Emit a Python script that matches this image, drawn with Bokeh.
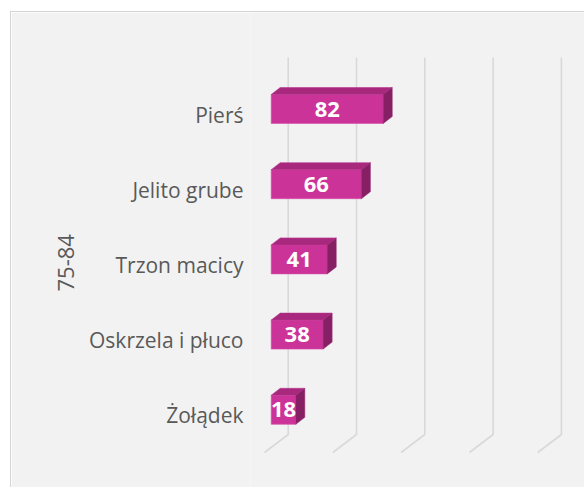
from bokeh.plotting import figure
from bokeh.models import Range1d, FixedTicker, ColumnDataSource, Title
from bokeh.embed import file_html
from bokeh.resources import INLINE
from bokeh.core.properties import value

# ---- data ----
categories = ["Pierś", "Jelito grube", "Trzon macicy", "Oskrzela i płuco", "Żołądek"]
values = [82, 66, 41, 38, 18]
group_label = "75-84"
grid_ticks = [0, 50, 100, 150, 200]

# ---- geometry helpers (pixel -> data unit conversions) ----
PX_X = 50 / 68.3   # value units per pixel
PX_Y = 1 / 75.2    # category units per pixel
BAR_H = 29 * PX_Y
BAR_OFF = 5.5 * PX_Y
DX = 9 * PX_X
DY = 7 * PX_Y
GX = 17 * PX_X
SX = -23.7 * PX_X
G_TOP = 5 + 57 * PX_Y
G_BOT = 5 - 320 * PX_Y
G_FLOOR = 5 - 338 * PX_Y

n = len(categories)
ypos = [n - i for i in range(n)]

FRONT = "#cc3399"
TOP = "#a8287e"
SIDE = "#861f63"
GRID = "#d9d9d9"
TXT = "#595959"
BG = "#f2f2f2"

p = figure(width=574, height=476, output_backend="svg", toolbar_location=None,
           x_range=Range1d(-20.7 * PX_X, (585 - 270.7) * PX_X),
           y_range=Range1d(5 - (488 - 114) * PX_Y, 5 + (114 - 12) * PX_Y),
           min_border_left=239, min_border_right=0, min_border_top=0, min_border_bottom=0)
p.styles = {"margin-left": "10px", "margin-top": "11px",
            "border-left": "1px solid #d4d4d4", "border-top": "1px solid #d4d4d4"}
p.background_fill_color = BG
p.border_fill_color = BG
p.outline_line_color = None
p.xgrid.visible = False
p.ygrid.visible = False
p.xaxis.visible = False

# gridlines (back wall + floor)
gxs = [[g + GX, g + GX, g + GX + SX] for g in grid_ticks]
gys = [[G_TOP, G_BOT, G_FLOOR] for g in grid_ticks]
p.multi_line(gxs, gys, line_color=GRID, line_width=1.6)

# bars
fb = [y + BAR_OFF - BAR_H / 2 for y in ypos]
ft = [y + BAR_OFF + BAR_H / 2 for y in ypos]
src = ColumnDataSource(dict(v=values, b=fb, t=ft, zero=[0] * n))
p.quad(left="zero", right="v", bottom="b", top="t", source=src,
       fill_color=FRONT, line_color="#d94da8", line_width=0.6)
top_xs = [[0, v, v + DX, DX] for v in values]
top_ys = [[t, t, t + DY, t + DY] for t in ft]
p.patches(top_xs, top_ys, fill_color=TOP, line_color="#b8388e", line_width=0.6)
side_xs = [[v, v + DX, v + DX, v] for v in values]
side_ys = [[t, t + DY, b + DY, b] for t, b in zip(ft, fb)]
p.patches(side_xs, side_ys, fill_color=SIDE, line_color="#9a2a74", line_width=0.6)

# value labels
lab = ColumnDataSource(dict(x=[v / 2 for v in values], y=[y + BAR_OFF for y in ypos],
                            txt=[str(v) for v in values]))
p.text(x="x", y="y", text="txt", source=lab, text_color="white",
       text_font=value("Open Sans"), text_font_style="bold", text_font_size="22px",
       text_align="center", text_baseline="middle")

# y axis
ax = p.yaxis[0]
ax.ticker = FixedTicker(ticks=ypos)
ax.major_label_overrides = {y: c for y, c in zip(ypos, categories)}
ax.axis_line_color = None
ax.major_tick_line_color = None
ax.minor_tick_line_color = None
ax.major_tick_out = 0
ax.major_label_standoff = 7
ax.major_label_text_font = "Open Sans"
ax.major_label_text_font_size = "21px"
ax.major_label_text_color = TXT

# group label on the left side
p.add_layout(Title(text=group_label, align="left", offset=197, standoff=26,
                   text_font="Open Sans", text_font_size="22px",
                   text_font_style="normal", text_color=TXT), "left")

open("out.html", "w").write(file_html(p, INLINE))
